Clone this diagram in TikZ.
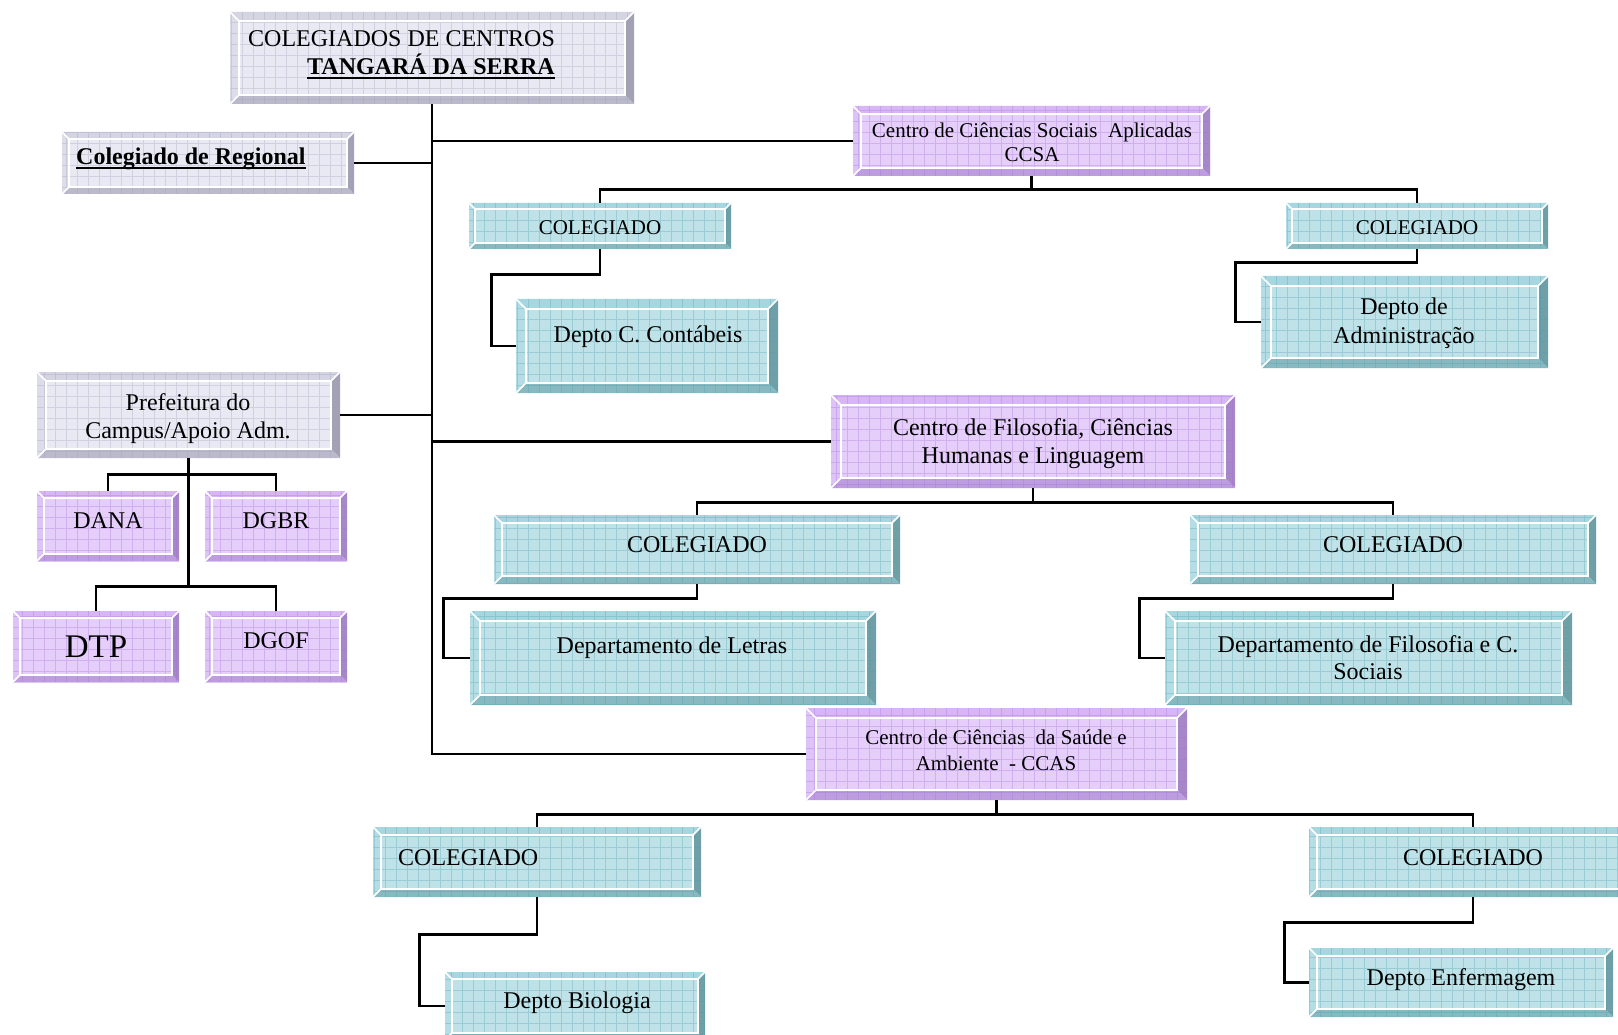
\documentclass[tikz,border=0pt]{standalone}
\usepackage{fontspec}
\setmainfont{Liberation Serif}

% palettes: face, bevels, grid
\definecolor{teface}{HTML}{BFE2E8}
\definecolor{tetop}{HTML}{A6D7E0}
\definecolor{teleft}{HTML}{B4DDE5}
\definecolor{teright}{HTML}{6FA0A8}
\definecolor{tebot}{HTML}{88B9C1}
\definecolor{tegrid}{HTML}{4E9FAE}

\definecolor{puface}{HTML}{E6CEFA}
\definecolor{putop}{HTML}{D8B6F5}
\definecolor{puleft}{HTML}{DEC3F7}
\definecolor{puright}{HTML}{A688C8}
\definecolor{pubot}{HTML}{BE9CE0}
\definecolor{pugrid}{HTML}{A46FD8}

\definecolor{grface}{HTML}{E9E9F4}
\definecolor{grtop}{HTML}{D4D4E2}
\definecolor{grleft}{HTML}{DDDDEA}
\definecolor{grright}{HTML}{A2A2B4}
\definecolor{grbot}{HTML}{BABACB}
\definecolor{grgrid}{HTML}{9C9CBC}

\newcommand\fA{\fontsize{24}{28}\selectfont}
\newcommand\fB{\fontsize{21}{25}\selectfont}
\newcommand\fC{\fontsize{33}{38}\selectfont}
% underline that runs through descenders, as a word processor draws it
\newcommand\wordul[1]{\setbox0\hbox{#1}\rlap{\rule[-0.17em]{\wd0}{0.075em}}\box0}

% bevelled box: name, x1, y1, x2, y2, bevel, palette
\newcommand\bevelbox[7]{%
  \pgfmathsetmacro\bxa{#2}\pgfmathsetmacro\bya{#3}%
  \pgfmathsetmacro\bxb{#4}\pgfmathsetmacro\byb{#5}%
  \pgfmathsetmacro\bxi{#2+#6}\pgfmathsetmacro\byi{#3+#6}%
  \pgfmathsetmacro\bxo{#4-#6}\pgfmathsetmacro\byo{#5-#6}%
  \fill[#7face] (\bxa,\bya) rectangle (\bxb,\byb);
  \fill[#7top] (\bxa,\bya) -- (\bxb,\bya) -- (\bxo,\byi) -- (\bxi,\byi) -- cycle;
  \fill[#7left] (\bxa,\bya) -- (\bxi,\byi) -- (\bxi,\byo) -- (\bxa,\byb) -- cycle;
  \fill[#7right] (\bxb,\bya) -- (\bxb,\byb) -- (\bxo,\byo) -- (\bxo,\byi) -- cycle;
  \fill[#7bot] (\bxa,\byb) -- (\bxb,\byb) -- (\bxo,\byo) -- (\bxi,\byo) -- cycle;
  \begin{scope}
    \clip (\bxa,\bya) rectangle (\bxb,\byb);
    \draw[#7grid, opacity=0.32, line width=0.9pt, step=11pt] (\bxa,\byb) grid (\bxb,\bya);
  \end{scope}
  \draw[white, line width=1.5pt] (\bxi,\byi) rectangle (\bxo,\byo);
  \draw[white, line width=1.5pt] (\bxa,\bya) -- (\bxi,\byi)
        (\bxb,\bya) -- (\bxo,\byi) (\bxa,\byb) -- (\bxi,\byo);
  \node[inner sep=0, minimum width={(#4-#2)*1pt}, minimum height={(#5-#3)*1pt}]
        (#1) at ({(#2+#4)/2},{(#3+#5)/2}) {};
}

\begin{document}
\begin{tikzpicture}[x=1pt, y=-1pt,
  conn/.style={line width=2.8pt, black, line join=miter},
  txt/.style={inner sep=0, anchor=base, text=black},
  txtl/.style={inner sep=0, anchor=base west, text=black}]

\useasboundingbox (0,0) rectangle (1618,1035);
\fill[white] (0,0) rectangle (1618,1035);
\clip (0,0) rectangle (1618,1035);

% ---------- boxes ----------
\bevelbox{top}{230}{12}{634}{104}{9}{gr}
\bevelbox{reg}{62}{132}{354}{194}{7}{gr}
\bevelbox{pref}{37}{372}{340}{458}{9}{gr}
\bevelbox{dana}{37}{491}{179}{561}{7}{pu}
\bevelbox{dgbr}{205}{491}{347}{561}{7}{pu}
\bevelbox{dtp}{13}{611}{179}{682}{7}{pu}
\bevelbox{dgof}{205}{611}{347}{682}{7}{pu}

\bevelbox{ccsa}{853}{106}{1210}{176}{8}{pu}
\bevelbox{colA}{469}{203}{731}{249}{6}{te}
\bevelbox{depA}{516}{299}{778}{393}{10}{te}
\bevelbox{colB}{1286}{203}{1548}{249}{6}{te}
\bevelbox{depB}{1261}{276}{1548}{368}{10}{te}

\bevelbox{cfchl}{831}{395}{1235}{488}{10}{pu}
\bevelbox{colC}{494}{515}{900}{584}{8}{te}
\bevelbox{depC}{470}{611}{876}{705}{10}{te}
\bevelbox{colD}{1190}{515}{1596}{584}{8}{te}
\bevelbox{depD}{1165}{611}{1572}{705}{10}{te}

\bevelbox{ccas}{806}{708}{1187}{800}{10}{pu}
\bevelbox{colE}{373}{827}{701}{897}{8}{te}
\bevelbox{depE}{445}{972}{705}{1040}{7}{te}
\bevelbox{colF}{1309}{827}{1637}{897}{8}{te}
\bevelbox{depF}{1309}{948}{1613}{1017}{8}{te}

% ---------- texts ----------
\node[txtl] (topT1) at (248,47) {\fA COLEGIADOS DE CENTROS};
\node[txtl] (topT2) at (307,75) {\fA\bfseries\wordul{TANGARÁ DA SERRA}};
\node[txtl] (regT) at (76,165) {\fA\bfseries\wordul{Colegiado de Regional}};
\node[txt] (prefT1) at (188,410) {\fA Prefeitura do};
\node[txt] (prefT2) at (188,438) {\fA Campus/Apoio Adm.};
\node[txt] (danaT) at (108,528) {\fA DANA};
\node[txt] (dgbrT) at (276,528) {\fA DGBR};
\node[txt] (dtpT) at (96,657) {\fC DTP};
\node[txt] (dgofT) at (276,648) {\fA DGOF};

\node[txt] (ccsaT1) at (1032,138) {\fB Centro de Ciências Sociais~ Aplicadas};
\node[txt] (ccsaT2) at (1032,162) {\fB CCSA};
\node[txt] (colAT) at (600,235) {\fB COLEGIADO};
\node[txt] (colBT) at (1417,235) {\fB COLEGIADO};
\node[txt] (depAT) at (648,342) {\fA Depto C. Contábeis};
\node[txt] (depBT1) at (1404,315) {\fA Depto de};
\node[txt] (depBT2) at (1404,343) {\fA Administração};

\node[txt] (cfchlT1) at (1033,435) {\fA Centro de Filosofia, Ciências};
\node[txt] (cfchlT2) at (1033,463) {\fA Humanas e Linguagem};
\node[txt] (colCT) at (697,552) {\fA COLEGIADO};
\node[txt] (colDT) at (1393,552) {\fA COLEGIADO};
\node[txt] (depCT) at (672,653) {\fA Departamento de Letras};
\node[txt] (depDT1) at (1368,652) {\fA Departamento de Filosofia e C.};
\node[txt] (depDT2) at (1368,679) {\fA Sociais};

\node[txt] (ccasT1) at (996,744) {\fB Centro de Ciências~ da Saúde e};
\node[txt] (ccasT2) at (996,770) {\fB Ambiente~ - CCAS};
\node[txtl] (colET) at (398,865) {\fA COLEGIADO};
\node[txt] (colFT) at (1473,865) {\fA COLEGIADO};
\node[txt] (depET) at (577,1008) {\fA Depto Biologia};
\node[txt] (depFT) at (1461,985) {\fA Depto Enfermagem};

% ---------- connectors ----------
% main spine and its branches
\draw[conn] (top.south) |- (ccas.west);
\draw[conn] (top.south |- ccsa.west) -- (ccsa.west);
\draw[conn] (top.south |- cfchl.west) -- (cfchl.west);
\draw[conn] (reg.east) -- (reg.east -| top.south);
\draw[conn] (pref.east) -- (pref.east -| top.south);

% campus administration
\draw[conn] (pref.south) -- ++(0,128) coordinate (jP);
\draw[conn] (dana.north) -- ++(0,-16) -| (dgbr.north);
\draw[conn] (dtp.north) |- (jP) -| (dgof.north);

% CCSA
\draw[conn] (ccsa.south) -- ++(0,13) coordinate (jA);
\draw[conn] (colA.north) |- (jA) -| (colB.north);
\draw[conn] (colA.south) -- ++(0,25) -| ([xshift=-24pt]depA.west) -- (depA.west);
\draw[conn] (colB.south) -- ++(0,13) -| ([xshift=-25pt]depB.west) -- (depB.west);

% CFCHL
\draw[conn] (cfchl.south) -- ++(0,14) coordinate (jC);
\draw[conn] (colC.north) |- (jC) -| (colD.north);
\draw[conn] (colC.south) -- ++(0,14) -| ([xshift=-26pt]depC.west) -- (depC.west);
\draw[conn] (colD.south) -- ++(0,14) -| ([xshift=-25pt]depD.west) -- (depD.west);

% CCAS
\draw[conn] (ccas.south) -- ++(0,14) coordinate (jE);
\draw[conn] (colE.north) |- (jE) -| (colF.north);
\draw[conn] (colE.south) -- ++(0,37) -| ([xshift=-25pt]depE.west) -- (depE.west);
\draw[conn] (colF.south) -- ++(0,25) -| ([xshift=-24pt]depF.west) -- (depF.west);

\end{tikzpicture}
\end{document}
